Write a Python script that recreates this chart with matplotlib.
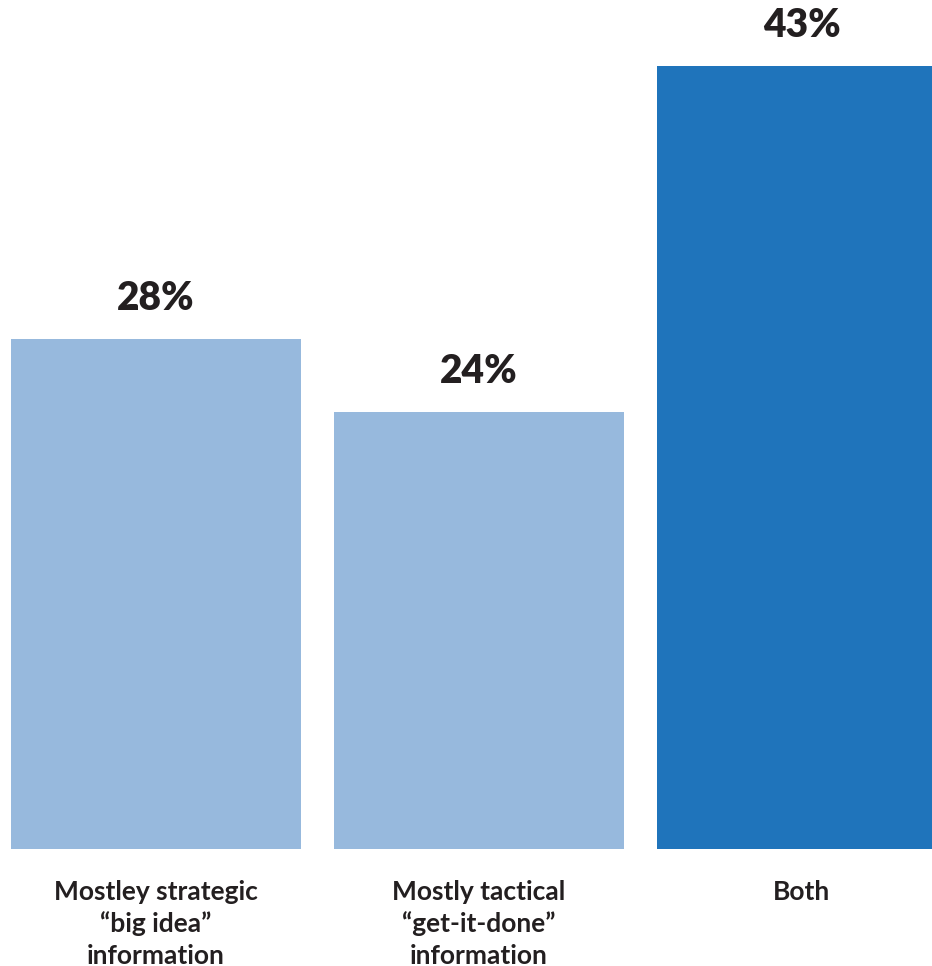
import matplotlib
matplotlib.use("Agg")
import matplotlib.pyplot as plt

# ─── Data ────────────────────────────────────────────────────────────────────
categories = ["Mostley strategic\n\u201cbig idea\u201d\ninformation",
              "Mostly tactical\n\u201cget-it-done\u201d\ninformation",
              "Both"]
values = [28, 24, 43]
value_labels = ["28%", "24%", "43%"]
bar_colors = ["#97b9dd", "#97b9dd", "#1f74bb"]

TEXT = "#231f20"
plt.rcParams["font.family"] = ["Lato", "DejaVu Sans"]

fig = plt.figure(figsize=(9.32, 9.66), dpi=100)
ax = fig.add_axes([0, (966 - 849) / 966, 1, 849 / 966])

x = range(len(values))
ax.bar(x, values, width=0.9, color=bar_colors)
ax.set_xlim(-156 / 323, (932 - 156) / 323)
ax.set_ylim(0, 849 / 18.2)

# value labels above the bars
for xi, v, lab in zip(x, values, value_labels):
    ax.annotate(lab, (xi, v), xytext=(0, 21), textcoords="offset points",
                ha="center", va="baseline", fontsize=28, fontweight="heavy",
                color=TEXT)

# category labels under the bars
for xi, cat in zip(x, categories):
    ax.annotate(cat, (xi, 0), xytext=(0, -22), textcoords="offset points",
                ha="center", va="top", fontsize=19, fontweight="bold",
                color=TEXT, linespacing=1.37, annotation_clip=False)

ax.axis("off")
fig.savefig("out.png", dpi=100, facecolor="white")
